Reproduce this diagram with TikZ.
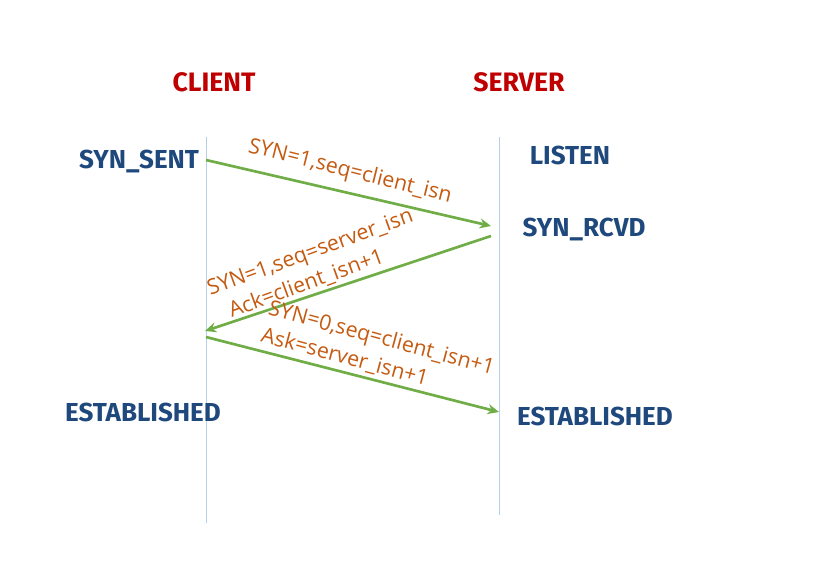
\documentclass[tikz,border=0pt]{standalone}
\usepackage{fontspec}
\setmainfont{Open Sans}
\newfontfamily\boldfam{Fira Sans}
\usetikzlibrary{arrows.meta}
\definecolor{hdred}{RGB}{192,0,0}
\definecolor{stblue}{RGB}{31,73,125}
\definecolor{lblorange}{RGB}{197,90,17}
\definecolor{lnblue}{RGB}{180,208,235}
\definecolor{argreen}{RGB}{112,173,71}
\tikzset{
  header/.style={text=hdred, font=\boldfam\bfseries\fontsize{20}{24}\selectfont, inner sep=0pt},
  state/.style={text=stblue, font=\boldfam\bfseries\fontsize{19.5}{24}\selectfont, inner sep=0pt},
  msg/.style={text=lblorange, font=\fontsize{16}{21}\selectfont, inner sep=0pt, align=left},
  lifeline/.style={draw=lnblue, line width=0.7pt},
  msgarrow/.style={draw=argreen, line width=2pt, -{Stealth[length=8.5pt,width=7.5pt]}}
}
\begin{document}
\begin{tikzpicture}[x=0.75pt,y=-0.75pt]
\useasboundingbox (0,0) rectangle (832,576);
% lifelines
\coordinate (ctop) at (206,137);
\coordinate (cbot) at (206,523);
\coordinate (stop) at (499,137);
\coordinate (sbot) at (499,515);
\draw[lifeline] (ctop) -- (cbot);
\draw[lifeline] (stop) -- (sbot);
% headers
\node[header] (client) at (214,82) {CLIENT};
\node[header] (server) at (519,82) {SERVER};
% states
\node[state] (synsent) at (139,161) {SYN\_SENT};
\node[state] (listen) at (570,155) {LISTEN};
\node[state] (synrcvd) at (584,229) {SYN\_RCVD};
\node[state] (estc) at (143,412) {ESTABLISHED};
\node[state] (ests) at (595,416) {ESTABLISHED};
% arrow endpoints
\coordinate (a1s) at (206,160);
\coordinate (a1e) at (491,226);
\coordinate (a2s) at (491,236);
\coordinate (a2e) at (205,331);
\coordinate (a3s) at (206,337);
\coordinate (a3e) at (499,412);
\draw[msgarrow] (a1s) -- (a1e);
\draw[msgarrow] (a2s) -- (a2e);
\draw[msgarrow] (a3s) -- (a3e);
% messages
\node[msg, rotate=-14] (m1) at (350,172) {SYN=1,seq=client\_isn};
\node[msg, rotate=20] (m2) at (315,266) {SYN=1,seq=server\_isn\\\hspace*{0.6em}Ack=client\_isn+1};
\node[msg, rotate=-15] (m3) at (378,352) {SYN=0,seq=client\_isn+1\\Ask=server\_isn+1};
\end{tikzpicture}
\end{document}
